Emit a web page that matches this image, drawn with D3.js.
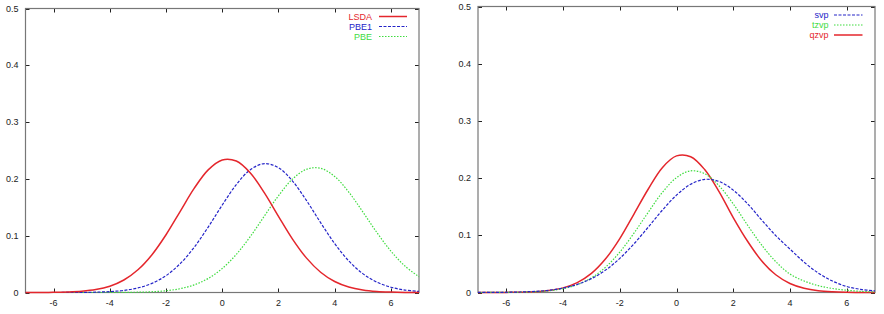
<!DOCTYPE html>
<html>
<head>
<meta charset="utf-8">
<title>Density curves</title>
<script src="https://cdn.jsdelivr.net/npm/d3@7"></script>
<style>
  body { margin: 0; background: #fff; }
  svg text { font-family: "Liberation Sans", Arial, sans-serif; font-size: 9px; fill: #222; }
</style>
</head>
<body>
<svg id="chart" width="884" height="314"></svg>
<script>
// sample positions (every 0.5)
const xValues = [-7, -6.5, -6, -5.5, -5, -4.5, -4, -3.5, -3, -2.5, -2, -1.5, -1, -0.5,
                 0, 0.5, 1, 1.5, 2, 2.5, 3, 3.5, 4, 4.5, 5, 5.5, 6, 6.5, 7];

// left panel
const lsda = [0.0000, 0.0001, 0.0003, 0.0009, 0.0022, 0.0051, 0.0111, 0.0220, 0.0400, 0.0666,
              0.1017, 0.1425, 0.1832, 0.2159, 0.2334, 0.2314, 0.2104, 0.1754, 0.1342, 0.0941,
              0.0605, 0.0357, 0.0193, 0.0096, 0.0044, 0.0018, 0.0007, 0.0002, 0.0001];
const pbe1 = [0.0000, 0.0000, 0.0000, 0.0001, 0.0002, 0.0006, 0.0016, 0.0037, 0.0080, 0.0161,
              0.0297, 0.0506, 0.0795, 0.1152, 0.1540, 0.1900, 0.2162, 0.2269, 0.2197, 0.1962,
              0.1617, 0.1229, 0.0861, 0.0557, 0.0332, 0.0183, 0.0093, 0.0043, 0.0019];
const pbe  = [0.0000, 0.0000, 0.0000, 0.0000, 0.0000, 0.0000, 0.0001, 0.0002, 0.0005, 0.0013,
              0.0031, 0.0067, 0.0134, 0.0247, 0.0423, 0.0671, 0.0987, 0.1347, 0.1703, 0.1997,
              0.2170, 0.2187, 0.2043, 0.1769, 0.1420, 0.1057, 0.0729, 0.0466, 0.0277];

// right panel
const svp  = [0.0001, 0.0001, 0.0004, 0.0009, 0.0019, 0.0039, 0.0077, 0.0141, 0.0242, 0.0392,
              0.0596, 0.0851, 0.1141, 0.1438, 0.1702, 0.1893, 0.1978, 0.1941, 0.1790, 0.1555,
              0.1270, 0.0995, 0.0760, 0.0530, 0.0340, 0.0200, 0.0105, 0.0055, 0.0027];
const tzvp = [0.0000, 0.0001, 0.0002, 0.0005, 0.0013, 0.0030, 0.0067, 0.0137, 0.0257, 0.0443,
              0.0706, 0.1037, 0.1400, 0.1748, 0.2008, 0.2127, 0.2075, 0.1866, 0.1550, 0.1182,
              0.0832, 0.0540, 0.0323, 0.0200, 0.0120, 0.0070, 0.0040, 0.0020, 0.0010];
const qzvp = [0.0000, 0.0000, 0.0002, 0.0005, 0.0013, 0.0035, 0.0081, 0.0173, 0.0334, 0.0589,
              0.0943, 0.1372, 0.1805, 0.2183, 0.2388, 0.2374, 0.2146, 0.1764, 0.1310, 0.0900,
              0.0555, 0.0310, 0.0158, 0.0074, 0.0031, 0.0012, 0.0004, 0.0001, 0.0000];

const xTicks = [-6, -4, -2, 0, 2, 4, 6];
const yTicks = [0, 0.1, 0.2, 0.3, 0.4, 0.5];
const yTickLabels = ['0', '0.1', '0.2', '0.3', '0.4', '0.5'];

const RED = '#e4262c', BLUE = '#2424c8', GREEN = '#3fdc3f';

const svg = d3.select('#chart');

function drawPanel(p) {
  const x = d3.scaleLinear().domain([-7, 7]).range([p.left, p.right]);
  const y = d3.scaleLinear().domain([0, 0.5]).range([p.bottom, p.top]);
  const g = svg.append('g');

  // inward ticks on all four sides
  const ticks = g.append('g').attr('stroke', '#222').attr('stroke-width', 1);
  xTicks.forEach(t => {
    const tx = Math.round(x(t)) + 0.5;
    ticks.append('line').attr('x1', tx).attr('x2', tx).attr('y1', p.bottom).attr('y2', p.bottom - 4);
    ticks.append('line').attr('x1', tx).attr('x2', tx).attr('y1', p.top).attr('y2', p.top + 4);
  });
  yTicks.forEach(t => {
    const ty = Math.round(y(t)) + 0.5;
    ticks.append('line').attr('x1', p.left).attr('x2', p.left + 4).attr('y1', ty).attr('y2', ty);
    ticks.append('line').attr('x1', p.right).attr('x2', p.right - 4).attr('y1', ty).attr('y2', ty);
  });

  g.append('rect')
    .attr('x', p.left).attr('y', p.top)
    .attr('width', p.right - p.left).attr('height', p.bottom - p.top)
    .attr('fill', 'none').attr('stroke', '#777').attr('stroke-width', 1.2);

  g.selectAll('.xl').data(xTicks).enter().append('text')
    .attr('x', d => x(d)).attr('y', p.bottom + 10).attr('dy', '0.35em')
    .attr('text-anchor', 'middle').text(d => d);

  g.selectAll('.yl').data(yTicks).enter().append('text')
    .attr('x', p.left - 7).attr('y', d => y(d)).attr('dy', '0.35em')
    .attr('text-anchor', 'end').text((d, i) => yTickLabels[i]);

  const line = d3.line().x((d, i) => x(xValues[i])).y(d => y(d)).curve(d3.curveCatmullRom);

  // draw in reverse so the first legend entry sits on top
  p.series.slice().reverse().forEach(s => {
    g.append('path').datum(s.values)
      .attr('d', line).attr('fill', 'none')
      .attr('stroke', s.color).attr('stroke-width', s.width)
      .attr('stroke-dasharray', s.dash);
  });

  // legend
  p.series.forEach((s, i) => {
    const ly = p.legendY + i * 10;
    g.append('text').attr('x', p.legendText).attr('y', ly).attr('dy', '0.35em')
      .attr('text-anchor', 'end').style('fill', s.color).text(s.name);
    g.append('line').attr('x1', p.legendLine[0]).attr('x2', p.legendLine[1])
      .attr('y1', ly).attr('y2', ly)
      .attr('stroke', s.color).attr('stroke-width', s.width)
      .attr('stroke-dasharray', s.dash);
  });
}

drawPanel({
  left: 25.5, right: 419, top: 8.5, bottom: 292.5,
  legendY: 16.5, legendText: 372, legendLine: [379, 407],
  series: [
    { name: 'LSDA', values: lsda, color: RED, width: 1.5, dash: null },
    { name: 'PBE1', values: pbe1, color: BLUE, width: 1.2, dash: '3,1.5' },
    { name: 'PBE', values: pbe, color: GREEN, width: 1.2, dash: '1.5,1.5' }
  ]
});

drawPanel({
  left: 478, right: 875, top: 6.5, bottom: 292.5,
  legendY: 15, legendText: 828.5, legendLine: [834, 862.5],
  series: [
    { name: 'svp', values: svp, color: BLUE, width: 1.2, dash: '3,1.5' },
    { name: 'tzvp', values: tzvp, color: GREEN, width: 1.2, dash: '1.5,1.5' },
    { name: 'qzvp', values: qzvp, color: RED, width: 1.5, dash: null }
  ]
});
</script>
</body>
</html>
